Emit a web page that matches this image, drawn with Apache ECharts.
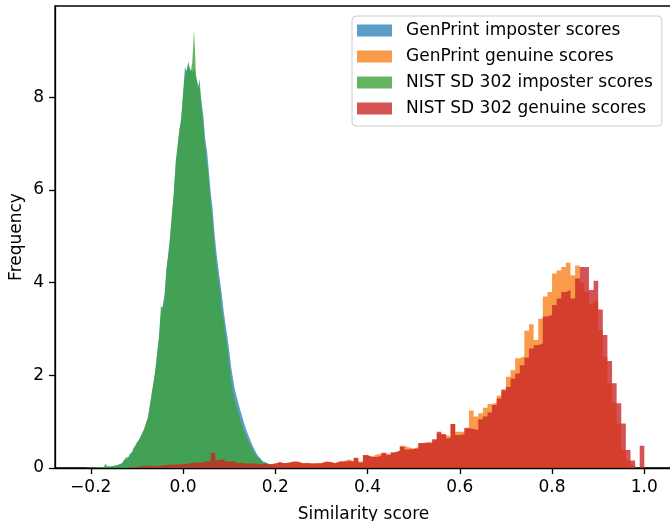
<!DOCTYPE html>
<html>
<head>
<meta charset="UTF-8">
<title>Similarity score histogram</title>
<script src="https://cdn.jsdelivr.net/npm/echarts@6/dist/echarts.min.js"></script>
<style>
  html, body { margin: 0; padding: 0; background: #fff; }
  #chart { width: 670px; height: 521px; }
</style>
</head>
<body>
<div id="chart"></div>
<script>
// ---- data ----
var seriesNames = ['GenPrint imposter scores', 'GenPrint genuine scores',
                   'NIST SD 302 imposter scores', 'NIST SD 302 genuine scores'];

// imposter histograms: bins of 0.004 starting at -0.22
var impBinStart = -0.22, impBinWidth = 0.004;
var genprintImposter = [
  0, 0, 0, 0.01, 0, 0, 0.01, 0.01, 0.01, 0.01,
  0.02, 0.02, 0.02, 0.03, 0.03, 0.04, 0.04, 0.05, 0.06, 0.07,
  0.08, 0.1, 0.13, 0.16, 0.2, 0.24, 0.28, 0.33, 0.4, 0.46,
  0.53, 0.6, 0.67, 0.75, 0.84, 0.96, 1.1, 1.32, 1.58, 1.84,
  2.12, 2.5, 2.85, 3.3, 3.5, 3.75, 4.25, 4.6, 5.0, 5.45,
  5.95, 6.5, 6.9, 7.25, 7.55, 8.0, 8.65, 8.55, 8.7, 8.6,
  8.55, 8.6, 8.45, 8.3, 8.2, 7.9, 7.6, 7.1, 6.85, 6.4,
  5.95, 5.6, 5.1, 4.7, 4.35, 4.05, 3.75, 3.4, 3.1, 2.85,
  2.55, 2.2, 1.95, 1.72, 1.55, 1.4, 1.25, 1.12, 0.98, 0.86,
  0.75, 0.65, 0.55, 0.46, 0.38, 0.3, 0.25, 0.2, 0.15, 0.12,
  0.1, 0.08, 0.06, 0.05, 0.04, 0.03, 0.02, 0.01, 0.01, 0
];
var nistImposter = [
  0, 0, 0.01, 0.01, 0, 0.01, 0.01, 0.02, 0.01, 0.02,
  0.01, 0.02, 0.03, 0.09, 0.03, 0.03, 0.04, 0.05, 0.05, 0.07,
  0.09, 0.1, 0.14, 0.17, 0.22, 0.25, 0.3, 0.34, 0.42, 0.48,
  0.55, 0.6, 0.68, 0.76, 0.85, 0.98, 1.08, 1.35, 1.6, 1.85,
  2.1, 2.42, 2.8, 3.5, 3.45, 3.65, 4.3, 4.6, 4.95, 5.5,
  5.9, 6.6, 6.95, 7.3, 7.5, 8.1, 8.45, 8.6, 8.78, 8.5,
  8.75, 9.45, 8.5, 8.15, 8.4, 7.8, 7.4, 6.9, 6.55, 6.2,
  5.7, 5.35, 4.8, 4.45, 4.1, 3.85, 3.4, 3.15, 2.85, 2.6,
  2.25, 1.95, 1.65, 1.45, 1.32, 1.2, 1.05, 0.92, 0.8, 0.7,
  0.62, 0.52, 0.45, 0.38, 0.3, 0.24, 0.2, 0.16, 0.12, 0.1,
  0.08, 0.06, 0.05, 0.04, 0.03, 0.02, 0.01, 0.01, 0, 0.01
];

// genuine histograms: bins of 0.01 starting at -0.12
var genBinStart = -0.12, genBinWidth = 0.01;
var genprintGenuine = [
  0.01, 0.02, 0.03, 0.04, 0.05, 0.05, 0.06, 0.06, 0.07, 0.08,
  0.08, 0.09, 0.09, 0.1, 0.12, 0.12, 0.13, 0.14, 0.18, 0.16,
  0.17, 0.14, 0.13, 0.12, 0.11, 0.1, 0.1, 0.09, 0.09, 0.09,
  0.08, 0.1, 0.12, 0.1, 0.11, 0.13, 0.12, 0.1, 0.11, 0.11,
  0.1, 0.1, 0.13, 0.13, 0.11, 0.14, 0.15, 0.19, 0.15, 0.21,
  0.14, 0.27, 0.25, 0.29, 0.31, 0.32, 0.3, 0.33, 0.37, 0.48,
  0.44, 0.42, 0.45, 0.53, 0.55, 0.57, 0.61, 0.74, 0.72, 0.68,
  0.95, 0.78, 0.78, 0.87, 1.24, 1.11, 1.18, 1.3, 1.38, 1.41,
  1.56, 1.7, 1.97, 2.11, 2.37, 2.41, 2.96, 3.1, 2.76, 3.22,
  3.7, 3.8, 4.2, 4.26, 4.34, 4.43, 4.16, 4.37, 4.0, 3.8,
  3.55, 3.6, 2.98, 2.4, 1.83, 1.41, 0.96, 0.39, 0.16, 0.06,
  0, 0
];
var nistGenuine = [
  0.01, 0.02, 0.04, 0.05, 0.05, 0.04, 0.05, 0.06, 0.07, 0.07,
  0.08, 0.08, 0.09, 0.11, 0.12, 0.12, 0.14, 0.15, 0.33, 0.17,
  0.19, 0.14, 0.14, 0.1, 0.11, 0.09, 0.1, 0.09, 0.08, 0.09,
  0.08, 0.09, 0.13, 0.1, 0.12, 0.14, 0.14, 0.1, 0.11, 0.09,
  0.1, 0.1, 0.14, 0.13, 0.1, 0.14, 0.14, 0.15, 0.14, 0.22,
  0.12, 0.28, 0.24, 0.24, 0.26, 0.33, 0.28, 0.34, 0.37, 0.46,
  0.4, 0.41, 0.42, 0.54, 0.55, 0.53, 0.62, 0.78, 0.73, 0.64,
  0.95, 0.71, 0.73, 0.86, 0.84, 0.82, 1.05, 1.11, 1.2, 1.36,
  1.5, 1.68, 1.75, 1.93, 2.04, 2.22, 2.38, 2.58, 2.65, 2.69,
  3.27, 3.3, 3.52, 3.66, 3.8, 3.84, 3.66, 4.09, 4.34, 4.34,
  3.84, 4.04, 3.42, 2.87, 2.31, 1.83, 1.4, 0.96, 0.39, 0.16,
  0, 0.48
];

var xTicks = [-0.2, 0.0, 0.2, 0.4, 0.6, 0.8, 1.0];
var yTicks = [0, 2, 4, 6, 8];
var colors = ['rgba(31,119,180,0.72)', 'rgba(245,122,14,0.75)',
              'rgba(60,162,55,0.8)', 'rgba(200,36,37,0.78)'];

// histogram outline as step points (left edges + closing edge)
function histPoints(start, width, heights) {
  var pts = [];
  for (var i = 0; i < heights.length; i++) {
    pts.push([start + i * width, heights[i]]);
  }
  pts.push([start + heights.length * width, 0]);
  return pts;
}

function histSeries(idx, start, width, heights) {
  return {
    name: seriesNames[idx],
    type: 'line',
    step: 'end',
    data: histPoints(start, width, heights),
    showSymbol: false,
    symbol: 'none',
    silent: true,
    lineStyle: { width: 0, opacity: 0 },
    itemStyle: { color: colors[idx] },
    areaStyle: { color: colors[idx], opacity: 1 },
    animation: false
  };
}

var font = 'DejaVu Sans';
var chart = echarts.init(document.getElementById('chart'), null, { renderer: 'canvas' });

chart.setOption({
  backgroundColor: '#fff',
  animation: false,
  textStyle: { fontFamily: font },
  grid: {
    left: 55, top: 6, width: 617, height: 462,
    outerBoundsMode: 'none',
    containLabel: false,
    show: true, borderColor: '#000', borderWidth: 1.3, backgroundColor: 'transparent'
  },
  legend: {
    orient: 'vertical',
    left: 352, top: 16,
    padding: [6, 9, 9, 5],
    itemWidth: 35, itemHeight: 12, itemGap: 9,
    icon: 'rect',
    backgroundColor: 'rgba(255,255,255,0.8)',
    borderColor: '#cccccc', borderWidth: 1, borderRadius: 4,
    selectedMode: false,
    textStyle: { fontFamily: font, fontSize: 17, color: '#000', padding: [0, 0, 0, 9] },
    data: seriesNames.map(function (n, i) {
      return { name: n, itemStyle: { color: colors[i] } };
    })
  },
  xAxis: {
    type: 'value',
    min: -0.2775, max: 1.06,
    name: 'Similarity score', nameLocation: 'middle', nameGap: 38,
    nameMoveOverlap: false,
    nameTextStyle: { fontFamily: font, fontSize: 17, color: '#000' },
    splitLine: { show: false },
    axisLine: { show: true, onZero: false, lineStyle: { color: '#000', width: 1.3 } },
    axisTick: { show: true, length: 6, lineStyle: { color: '#000', width: 1.3 }, customValues: xTicks },
    axisLabel: {
      fontFamily: font, fontSize: 17, color: '#000', margin: 11,
      customValues: xTicks,
      formatter: function (v) {
        var s = Math.abs(v).toFixed(1);
        return v < 0 ? '\u2212' + s : s;
      }
    }
  },
  yAxis: {
    type: 'value',
    min: 0, max: 9.97,
    name: 'Frequency', nameLocation: 'middle', nameGap: 30, nameRotate: 90,
    nameMoveOverlap: false,
    nameTextStyle: { fontFamily: font, fontSize: 17, color: '#000' },
    splitLine: { show: false },
    axisLine: { show: true, onZero: false, lineStyle: { color: '#000', width: 1.3 } },
    axisTick: { show: true, length: 6, lineStyle: { color: '#000', width: 1.3 }, customValues: yTicks },
    axisLabel: {
      fontFamily: font, fontSize: 17, color: '#000', margin: 11,
      customValues: yTicks,
      formatter: function (v) { return String(Math.round(v)); }
    }
  },
  series: [
    histSeries(0, impBinStart, impBinWidth, genprintImposter),
    histSeries(1, genBinStart, genBinWidth, genprintGenuine),
    histSeries(2, impBinStart, impBinWidth, nistImposter),
    histSeries(3, genBinStart, genBinWidth, nistGenuine)
  ]
});
</script>
</body>
</html>
